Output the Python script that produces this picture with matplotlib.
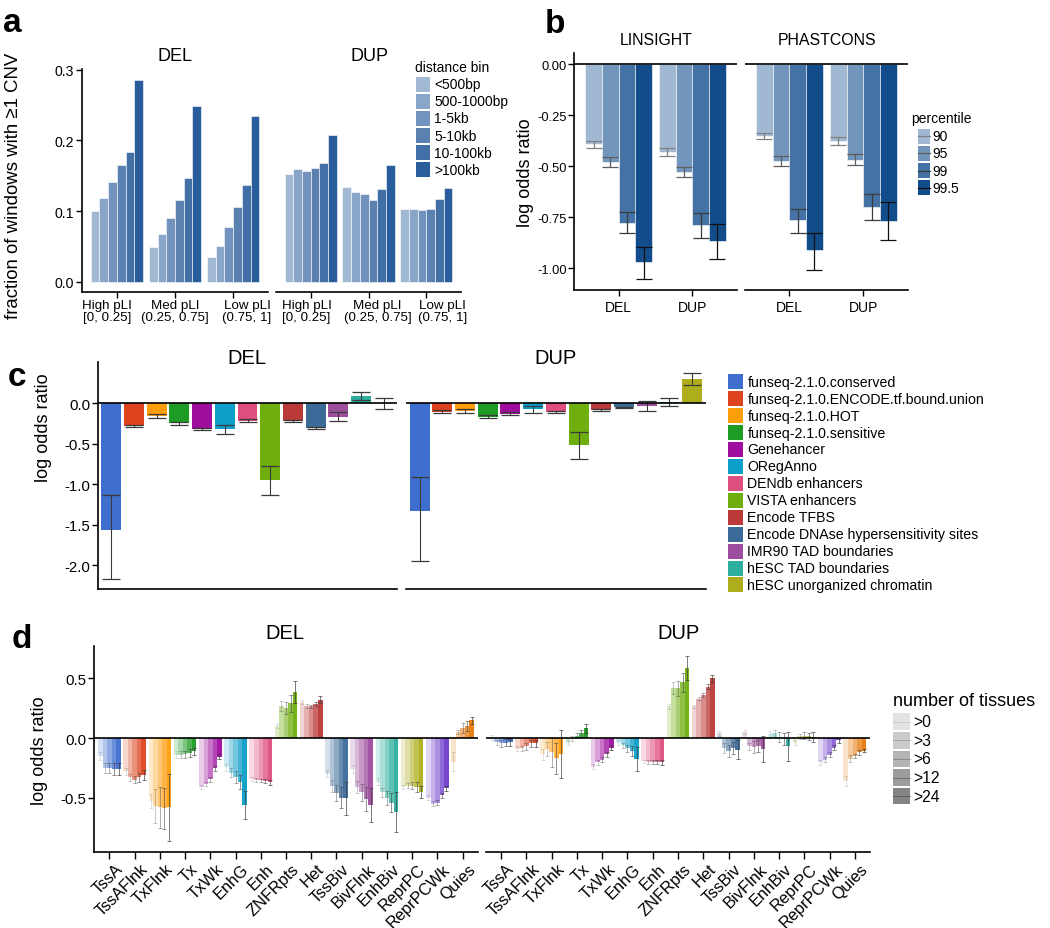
import matplotlib
matplotlib.use('Agg')
import matplotlib.pyplot as plt
import matplotlib.transforms as mtrans
from matplotlib.patches import Rectangle
from matplotlib.lines import Line2D
import numpy as np

plt.rcParams['font.family'] = ['Liberation Sans', 'DejaVu Sans']
plt.rcParams['axes.unicode_minus'] = False

# ---------------- data ----------------
# panel a
a_groups = ['High pLI\n[0, 0.25]', 'Med pLI\n(0.25, 0.75]', 'Low pLI\n(0.75, 1]']
a_bins = ['<500bp', '500-1000bp', '1-5kb', '5-10kb', '10-100kb', '>100kb']
a_del = [[0.100, 0.119, 0.141, 0.165, 0.184, 0.286],
         [0.049, 0.068, 0.090, 0.116, 0.147, 0.249],
         [0.035, 0.051, 0.077, 0.105, 0.137, 0.234]]
a_dup = [[0.153, 0.159, 0.157, 0.161, 0.168, 0.208],
         [0.134, 0.127, 0.124, 0.115, 0.131, 0.165],
         [0.103, 0.1035, 0.102, 0.1035, 0.1165, 0.133]]
a_yticks = [0.0, 0.1, 0.2, 0.3]

# panel b
b_methods = ['LINSIGHT', 'PHASTCONS']
b_cnv = ['DEL', 'DUP']
b_pct = ['90', '95', '99', '99.5']
b_lin_est = [[-0.392, -0.479, -0.776, -0.971], [-0.428, -0.526, -0.789, -0.866]]
b_lin_hi = [[-0.374, -0.456, -0.725, -0.894], [-0.412, -0.502, -0.730, -0.781]]
b_lin_lo = [[-0.410, -0.502, -0.827, -1.052], [-0.451, -0.552, -0.850, -0.954]]
b_pha_est = [[-0.350, -0.474, -0.763, -0.912], [-0.376, -0.467, -0.699, -0.768]]
b_pha_hi = [[-0.335, -0.451, -0.709, -0.825], [-0.356, -0.441, -0.636, -0.676]]
b_pha_lo = [[-0.368, -0.497, -0.828, -1.007], [-0.395, -0.493, -0.761, -0.859]]
b_yticks = [0.0, -0.25, -0.5, -0.75, -1.0]

# panel c
c_cats = ['funseq-2.1.0.conserved', 'funseq-2.1.0.ENCODE.tf.bound.union', 'funseq-2.1.0.HOT',
          'funseq-2.1.0.sensitive', 'Genehancer', 'ORegAnno', 'DENdb enhancers',
          'VISTA enhancers', 'Encode TFBS', 'Encode DNAse hypersensitivity sites',
          'IMR90 TAD boundaries', 'hESC TAD boundaries', 'hESC unorganized chromatin']
c_del_est = [-1.568, -0.280, -0.155, -0.245, -0.316, -0.321, -0.214, -0.947, -0.218, -0.300, -0.165, 0.086, -0.002]
c_del_hi = [-1.132, -0.263, -0.132, -0.226, -0.300, -0.272, -0.193, -0.778, -0.206, -0.288, -0.111, 0.144, 0.062]
c_del_lo = [-2.169, -0.296, -0.177, -0.263, -0.333, -0.374, -0.235, -1.128, -0.230, -0.313, -0.218, 0.037, -0.066]
c_dup_est = [-1.333, -0.105, -0.098, -0.165, -0.130, -0.075, -0.105, -0.519, -0.082, -0.050, -0.035, 0.020, 0.300]
c_dup_hi = [-0.909, -0.086, -0.075, -0.144, -0.111, -0.029, -0.090, -0.358, -0.070, -0.041, 0.025, 0.070, 0.370]
c_dup_lo = [-1.942, -0.120, -0.120, -0.185, -0.148, -0.123, -0.120, -0.691, -0.095, -0.060, -0.090, -0.033, 0.230]
c_yticks = [0.0, -0.5, -1.0, -1.5, -2.0]

# panel d
d_states = ['TssA', 'TssAFlnk', 'TxFlnk', 'Tx', 'TxWk', 'EnhG', 'Enh', 'ZNFRpts', 'Het',
            'TssBiv', 'BivFlnk', 'EnhBiv', 'ReprPC', 'ReprPCWk', 'Quies']
d_tissues = ['>0', '>3', '>6', '>12', '>24']
d_del_est = [[-0.15, -0.25, -0.25, -0.26, -0.26],
             [-0.28, -0.33, -0.35, -0.33, -0.31],
             [-0.53, -0.57, -0.58, -0.59, -0.58],
             [-0.14, -0.14, -0.135, -0.125, -0.11],
             [-0.41, -0.385, -0.345, -0.255, -0.155],
             [-0.245, -0.29, -0.33, -0.37, -0.56],
             [-0.345, -0.35, -0.355, -0.36, -0.37],
             [0.10, 0.27, 0.255, 0.29, 0.385],
             [0.30, 0.27, 0.265, 0.285, 0.32],
             [-0.30, -0.40, -0.46, -0.50, -0.505],
             [-0.26, -0.41, -0.455, -0.51, -0.56],
             [-0.365, -0.455, -0.50, -0.54, -0.62],
             [-0.41, -0.40, -0.40, -0.41, -0.455],
             [-0.50, -0.55, -0.54, -0.48, -0.42],
             [-0.20, 0.05, 0.085, 0.10, 0.15]]
d_del_err = [[0.03, 0.04, 0.04, 0.05, 0.05],
             [0.03, 0.03, 0.03, 0.04, 0.04],
             [0.06, 0.14, 0.17, 0.17, 0.28],
             [0.03, 0.03, 0.03, 0.03, 0.03],
             [0.02, 0.02, 0.02, 0.02, 0.02],
             [0.03, 0.04, 0.05, 0.06, 0.12],
             [0.015, 0.015, 0.015, 0.02, 0.02],
             [0.02, 0.04, 0.05, 0.07, 0.09],
             [0.015, 0.015, 0.015, 0.02, 0.03],
             [0.03, 0.05, 0.07, 0.09, 0.14],
             [0.03, 0.05, 0.07, 0.10, 0.14],
             [0.03, 0.04, 0.06, 0.08, 0.17],
             [0.02, 0.02, 0.03, 0.04, 0.05],
             [0.02, 0.02, 0.02, 0.02, 0.02],
             [0.08, 0.02, 0.04, 0.04, 0.03]]
d_dup_est = [[0.005, -0.035, -0.045, -0.04, -0.035],
             [-0.09, -0.085, -0.07, -0.045, -0.045],
             [-0.135, -0.09, -0.12, -0.17, -0.135],
             [-0.04, -0.005, 0.02, 0.04, 0.08],
             [-0.24, -0.205, -0.18, -0.135, -0.08],
             [-0.04, -0.06, -0.085, -0.11, -0.175],
             [-0.195, -0.20, -0.20, -0.20, -0.205],
             [0.265, 0.42, 0.415, 0.465, 0.587],
             [0.265, 0.33, 0.36, 0.43, 0.50],
             [0.04, -0.085, -0.11, -0.087, -0.098],
             [0.05, -0.07, -0.075, -0.07, -0.09],
             [0.03, 0.04, 0.01, -0.01, -0.07],
             [-0.04, 0.015, 0.02, 0.015, 0.01],
             [-0.205, -0.18, -0.14, -0.08, -0.02],
             [-0.36, -0.175, -0.15, -0.12, -0.105]]
d_dup_err = [[0.02, 0.02, 0.03, 0.03, 0.03],
             [0.02, 0.02, 0.03, 0.03, 0.03],
             [0.045, 0.06, 0.12, 0.13, 0.20],
             [0.02, 0.02, 0.02, 0.03, 0.04],
             [0.02, 0.02, 0.02, 0.02, 0.02],
             [0.02, 0.02, 0.03, 0.04, 0.10],
             [0.015, 0.015, 0.015, 0.015, 0.02],
             [0.02, 0.05, 0.06, 0.08, 0.10],
             [0.015, 0.015, 0.015, 0.02, 0.03],
             [0.02, 0.04, 0.05, 0.05, 0.08],
             [0.02, 0.03, 0.05, 0.05, 0.11],
             [0.03, 0.03, 0.04, 0.05, 0.12],
             [0.02, 0.02, 0.03, 0.03, 0.04],
             [0.02, 0.02, 0.02, 0.02, 0.02],
             [0.04, 0.03, 0.02, 0.02, 0.015]]
d_yticks = [0.5, 0.0, -0.5]

# ---------------- styles ----------------
a_colors = ['#a2b9d4', '#89a6c9', '#7293bd', '#5b81b1', '#426fa6', '#2a5d9b']
b_colors = ['#a1b8d3', '#7295bc', '#4472a5', '#124c8b']
b_ecolors = ['#808080', '#5e5e5e', '#3c3c3c', '#111111']
pal = ['#3366CC', '#DC3912', '#FF9900', '#109618', '#990099', '#0099C6', '#DD4477',
       '#66AA00', '#B82E2E', '#316395', '#994499', '#22AA99', '#AAAA11', '#6633CC', '#E67300']
d_alphas = [0.2, 0.375, 0.55, 0.73, 0.9]

W, H = 1050, 929
fig = plt.figure(figsize=(W / 100, H / 100), dpi=100)


def ax_px(x0, y0, x1, y1):
    return fig.add_axes([x0 / W, 1 - y1 / H, (x1 - x0) / W, (y1 - y0) / H])


def ftext(x, y, s, **kw):
    return fig.text(x / W, 1 - y / H, s, **kw)


def frect(x, y, w, h, color, alpha=1.0):
    fig.add_artist(Rectangle((x / W, 1 - (y + h) / H), w / W, h / H, transform=fig.transFigure,
                             facecolor=color, edgecolor='none', alpha=alpha))


def fline(x0, x1, y, color, lw=0.8, alpha=1.0):
    fig.add_artist(Line2D([x0 / W, x1 / W], [1 - y / H, 1 - y / H], transform=fig.transFigure,
                          color=color, lw=lw, alpha=alpha))


def style(ax, left=True, bottom=True, xticks=True):
    for s in ['top', 'right']:
        ax.spines[s].set_visible(False)
    ax.spines['left'].set_visible(left)
    ax.spines['bottom'].set_visible(bottom)
    for s in ['left', 'bottom']:
        ax.spines[s].set_linewidth(1.2)
    ax.tick_params(axis='both', length=4, width=1.0, pad=1.5, colors='black')
    if not left:
        ax.tick_params(axis='y', left=False, labelleft=False)
    if not xticks:
        ax.tick_params(axis='x', bottom=False, labelbottom=False)
    ax.patch.set_alpha(0)


# ---------------- panel a ----------------
axa1 = ax_px(82, 70, 268, 293)
axa2 = ax_px(276, 70, 461, 293)
nb = len(a_bins)
bw = 0.9 / nb
gx = np.arange(1, len(a_groups) + 1)
# horizontal nudges (px) of the group labels, as in the reference layout
a_label_shift = [[-10, 0, 14], [-4, 9, 16]]
for i, (ax, vals) in enumerate([(axa1, a_del), (axa2, a_dup)]):
    for j in range(nb):
        ax.bar(gx - 0.45 + bw * (j + 0.5), [v[j] for v in vals], width=bw,
               color=a_colors[j], edgecolor='white', linewidth=0.4)
    ax.set_xlim(0.4, 3.6)
    ax.set_ylim(-0.0146, 0.301)
    ax.set_xticks(gx)
    ax.set_xticklabels([])
    for g, lab, sh in zip(gx, a_groups, a_label_shift[i]):
        ax.annotate(lab, xy=(g, 0), xycoords=('data', 'axes fraction'),
                    xytext=(sh * 0.72, -5.0), textcoords='offset points',
                    ha='center', va='top', fontsize=9.6, linespacing=1.0,
                    multialignment='center', annotation_clip=False)
    ax.set_yticks(a_yticks)
    ax.set_yticklabels(['%.1f' % t for t in a_yticks], fontsize=10.2)
style(axa1)
style(axa2, left=False)
ftext(174.8, 60.8, 'DEL', fontsize=13, ha='center', va='baseline')
ftext(369, 60.8, 'DUP', fontsize=13, ha='center', va='baseline')
ftext(14, 186, 'fraction of windows with \u22651 CNV', fontsize=13.4, rotation=90,
      ha='center', va='center')
# legend a
ftext(415, 72, 'distance bin', fontsize=10, ha='left', va='baseline')
for j, lab in enumerate(a_bins):
    yc = 85.3 + 17.1 * j
    frect(416, yc - 7.5, 14, 15, a_colors[j])
    ftext(434, yc, lab, fontsize=10, ha='left', va='center')

# ---------------- panel b ----------------
axb1 = ax_px(574.3, 54.3, 736.7, 291)
axb2 = ax_px(745, 54.3, 907.7, 291)
npct = len(b_pct)
bbw = 0.9 / npct
bx = np.arange(1, len(b_cnv) + 1)
for ax, est, lo, hi in [(axb1, b_lin_est, b_lin_lo, b_lin_hi), (axb2, b_pha_est, b_pha_lo, b_pha_hi)]:
    for j in range(npct):
        xs = bx - 0.45 + bbw * (j + 0.5)
        e = np.array([v[j] for v in est])
        l = np.array([v[j] for v in lo])
        h = np.array([v[j] for v in hi])
        ax.bar(xs, e, width=bbw, color=b_colors[j], edgecolor='white', linewidth=0.4)
        ax.errorbar(xs, e, yerr=[e - l, h - e], fmt='none', ecolor=b_ecolors[j],
                    elinewidth=0.9, capsize=5.6, capthick=0.9)
    ax.axhline(0, color='black', lw=1.2)
    ax.set_xlim(0.4, 2.6)
    ax.set_ylim(-1.106, 0.054)
    ax.set_xticks(bx)
    ax.set_xticklabels(b_cnv, fontsize=10)
    ax.set_yticks(b_yticks)
    ax.set_yticklabels(['%.2f' % t for t in b_yticks], fontsize=9.3)
style(axb1)
style(axb2, left=False)
axb1.tick_params(axis='x', pad=3)
axb2.tick_params(axis='x', pad=3)
ftext(655.8, 45, 'LINSIGHT', fontsize=11.4, ha='center', va='baseline')
ftext(826.7, 45, 'PHASTCONS', fontsize=11.4, ha='center', va='baseline')
ftext(526, 172.5, 'log odds ratio', fontsize=13, rotation=90, ha='center', va='center')
# legend b
ftext(910.7, 123, 'percentile', fontsize=10, ha='left', va='baseline')
for j, lab in enumerate(b_pct):
    yc = 137 + 17.3 * j
    frect(917.7, yc - 7.5, 12.5, 15, b_colors[j])
    fline(917.7, 930.2, yc, b_ecolors[j], lw=0.9)
    ftext(932.7, yc, lab, fontsize=10, ha='left', va='center')

# ---------------- panel c ----------------
axc1 = ax_px(97.7, 363.3, 397.3, 590.3)
axc2 = ax_px(406, 363.3, 705.7, 590.3)
cx = np.arange(1, len(c_cats) + 1)
for ax, est, lo, hi in [(axc1, c_del_est, c_del_lo, c_del_hi), (axc2, c_dup_est, c_dup_lo, c_dup_hi)]:
    e = np.array(est)
    l = np.array(lo)
    h = np.array(hi)
    ax.bar(cx, e, width=0.88, color=pal[:len(c_cats)], alpha=0.95, edgecolor='none')
    ax.errorbar(cx, e, yerr=[e - l, h - e], fmt='none', ecolor='#3a3a3a',
                elinewidth=0.8, capsize=6.8, capthick=0.9)
    ax.axhline(0, color='black', lw=1.2)
    ax.set_xlim(0.4, 13.6)
    ax.set_ylim(-2.296, 0.506)
    ax.set_yticks(c_yticks)
    ax.set_yticklabels(['%.1f' % t for t in c_yticks], fontsize=10.8)
style(axc1, xticks=False)
style(axc2, left=False, xticks=False)
ftext(247, 363.7, 'DEL', fontsize=14.5, ha='center', va='baseline')
ftext(555, 363.7, 'DUP', fontsize=14.5, ha='center', va='baseline')
ftext(44, 427.5, 'log odds ratio', fontsize=13, rotation=90, ha='center', va='center')
for j, lab in enumerate(c_cats):
    yc = 382.7 + 16.94 * j
    frect(728, yc - 7.5, 14.7, 15, pal[j], alpha=0.95)
    ftext(747.3, yc, lab, fontsize=10.2, ha='left', va='center')

# ---------------- panel d ----------------
axd1 = ax_px(94.3, 647.3, 477.7, 853.3)
axd2 = ax_px(486, 647.3, 870, 853.3)
dx = np.arange(1, len(d_states) + 1)
nt = len(d_tissues)
dbw = 0.9 / nt
for ax, est, err in [(axd1, d_del_est, d_del_err), (axd2, d_dup_est, d_dup_err)]:
    for k in range(nt):
        xs = dx - 0.45 + dbw * (k + 0.5)
        e = np.array([v[k] for v in est])
        r = np.array([v[k] for v in err])
        ax.bar(xs, e, width=dbw, color=pal[:len(d_states)], alpha=d_alphas[k], edgecolor='none')
        ax.errorbar(xs, e, yerr=r, fmt='none', ecolor=(0.25, 0.25, 0.25, min(1.0, d_alphas[k] * 0.9)),
                    elinewidth=0.6, capsize=1.3, capthick=0.6)
    ax.axhline(0, color='black', lw=1.2)
    ax.set_xlim(0.4, 15.6)
    ax.set_ylim(-0.957, 0.768)
    ax.set_xticks(dx)
    ax.set_xticklabels([])
    for g, lab in zip(dx, d_states):
        ax.annotate(lab, xy=(g, 0), xycoords=('data', 'axes fraction'),
                    xytext=(3.8, -6.2), textcoords='offset points',
                    ha='right', va='top', rotation=45, rotation_mode='anchor',
                    fontsize=11.8, annotation_clip=False)
    ax.set_yticks(d_yticks)
    ax.set_yticklabels(['%.1f' % t for t in d_yticks], fontsize=10.8)
style(axd1)
style(axd2, left=False)
axd1.tick_params(axis='x', length=5)
axd2.tick_params(axis='x', length=5)
ftext(285.3, 638.7, 'DEL', fontsize=14.5, ha='center', va='baseline')
ftext(678.3, 638.7, 'DUP', fontsize=14.5, ha='center', va='baseline')
ftext(39, 751, 'log odds ratio', fontsize=13, rotation=90, ha='center', va='center')
ftext(892.7, 706.5, 'number of tissues', fontsize=13, ha='left', va='baseline')
for k, lab in enumerate(d_tissues):
    yc = 722.7 + 18.6 * k
    frect(893.3, yc - 8.3, 16.7, 16.6, '#777777', alpha=d_alphas[k])
    fline(893.3, 910, yc, '#555555', lw=0.6, alpha=d_alphas[k])
    ftext(913.3, yc, lab, fontsize=11.3, ha='left', va='center')

# panel letters
for lab, x, y in [('a', 3, 32), ('b', 545, 32.7), ('c', 8, 386), ('d', 12, 648)]:
    ftext(x, y, lab, fontsize=24, fontweight='bold', ha='left', va='baseline')

fig.savefig('out.png', dpi=100)
